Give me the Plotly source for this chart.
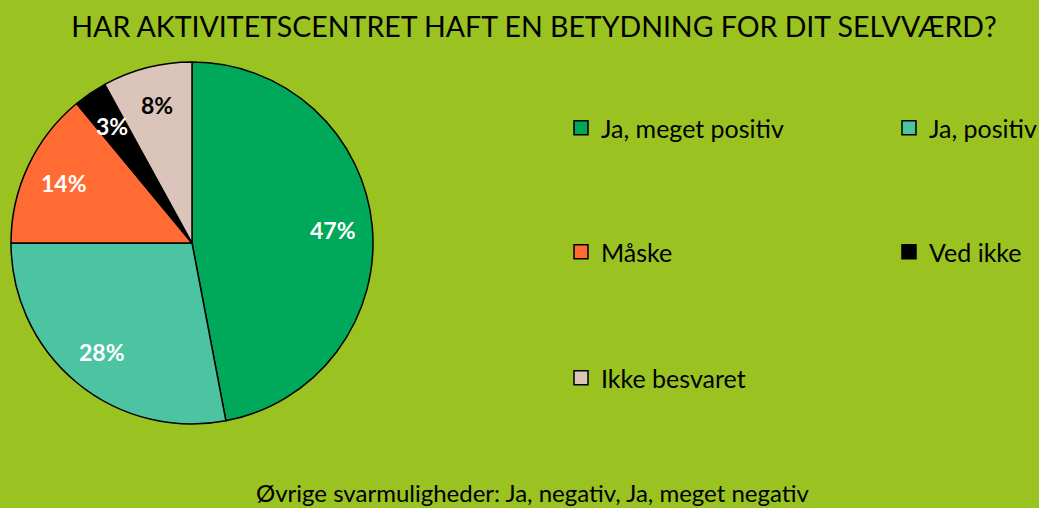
import math
import plotly.graph_objects as go

categories = ["Ja, meget positiv", "Ja, positiv", "Måske", "Ved ikke", "Ikke besvaret"]
values = [47, 28, 14, 3, 8]
colors = ["#00A85A", "#4CC4A2", "#FF6B33", "#000000", "#DBC4BA"]
label_colors = ["white", "white", "white", "white", "black"]
title_text = "HAR AKTIVITETSCENTRET HAFT EN BETYDNING FOR DIT SELVVÆRD?"
footer_text = "Øvrige svarmuligheder: Ja, negativ, Ja, meget negativ"
legend_rows = [[0, 1], [2, 3], [4]]

BG = "#9AC220"
FONT = "Lato"
W, H = 1039, 508
# pie geometry (pixels)
PIE_L, PIE_R, PIE_T, PIE_B = 10, 374, 62, 424
CX, CY = (PIE_L + PIE_R) / 2, (PIE_T + PIE_B) / 2
RAD = (PIE_R - PIE_L) / 2
LABEL_R = 0.78

fig = go.Figure()
fig.add_trace(go.Pie(
    labels=categories, values=values, sort=False, direction="clockwise", rotation=0,
    marker=dict(colors=colors, line=dict(color="black", width=1.5)),
    textinfo="none",
    domain=dict(x=[PIE_L / W, PIE_R / W], y=[1 - PIE_B / H, 1 - PIE_T / H]),
    showlegend=False, hoverinfo="label+percent",
))

# percentage labels placed along each slice's mid-angle
annotations = []
total = sum(values)
cum = 0
for v, c in zip(values, label_colors):
    mid = (cum + v / 2) / total * 2 * math.pi
    cum += v
    px = CX + LABEL_R * RAD * math.sin(mid)
    py = CY - LABEL_R * RAD * math.cos(mid)
    annotations.append(dict(
        text=f"<b>{round(v / total * 100)}%</b>", xref="paper", yref="paper",
        x=px / W, y=1 - py / H, xanchor="center", yanchor="middle", showarrow=False,
        font=dict(family=FONT, size=23, color=c)))

legend_names = ["legend", "legend2", "legend3"]
row_y = [128, 252, 378]
for r, idxs in enumerate(legend_rows):
    for i in idxs:
        fig.add_trace(go.Scatter(
            x=[None], y=[None], mode="markers", name=categories[i],
            marker=dict(symbol="square", size=14, color=colors[i], line=dict(color="black", width=1.5)),
            legend=legend_names[r], showlegend=True,
        ))

legend_common = dict(orientation="h", bgcolor="rgba(0,0,0,0)", font=dict(family=FONT, size=25, color="black"),
                     entrywidth=283, entrywidthmode="pixels", xanchor="left", yanchor="middle", itemclick=False)
layout_legends = {}
for r, name in enumerate(legend_names):
    layout_legends[name] = dict(x=561 / W, y=1 - row_y[r] / H, **legend_common)

annotations.append(dict(text=footer_text, xref="paper", yref="paper", x=0.513, y=1 - 492 / H,
                        xanchor="center", yanchor="middle", showarrow=False,
                        font=dict(family=FONT, size=24, color="black")))

fig.update_layout(
    width=W, height=H,
    paper_bgcolor=BG, plot_bgcolor=BG,
    margin=dict(l=0, r=0, t=0, b=0, autoexpand=False),
    title=dict(text=title_text, x=0.514, xanchor="center", y=1 - 27 / H, yanchor="middle",
               font=dict(family=FONT, size=28.5, color="black")),
    xaxis=dict(visible=False), yaxis=dict(visible=False),
    annotations=annotations,
    **layout_legends,
)

fig.write_html("out.html", config={"displayModeBar": False},
               post_script="document.body.style.margin='0';document.body.style.overflow='hidden';")
